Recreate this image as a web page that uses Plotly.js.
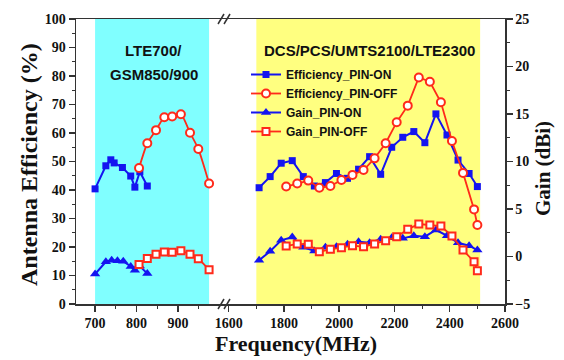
<!DOCTYPE html>
<html>
<head>
<meta charset="utf-8">
<script src="https://cdn.plot.ly/plotly-3.0.1.min.js"></script>
<style>html,body{margin:0;padding:0;background:#fff;}#chart{width:564px;height:360px;}</style>
</head>
<body>
<div id="chart"></div>
<script>
// ---------- data ----------
// Low band (LTE700/GSM850/900)
const effOnLowFreq  = [700, 726, 738, 746, 766, 786, 796, 808, 826];
const effOnLow      = [40.4, 48.5, 50.6, 49.5, 47.9, 44.9, 41.0, 46.4, 41.4];
const gainOnLowFreq = [700, 726, 740, 754, 768, 786, 796, 808, 826];
const gainOnLow     = [-1.85, -0.55, -0.4, -0.45, -0.5, -1.05, -1.45, -1.0, -1.8];
const offLowFreq    = [806, 826, 847, 867, 886, 907, 929, 949, 975];
const effOffLow     = [47.7, 56.4, 61.0, 65.5, 65.8, 66.6, 60.1, 54.4, 42.3];
const gainOffLow    = [-0.85, -0.2, 0.23, 0.47, 0.44, 0.6, 0.23, -0.23, -1.4];

// High band (DCS/PCS/UMTS2100/LTE2300)
const onHighFreq  = [1710, 1750, 1790, 1830, 1870, 1910, 1950, 1990, 2030, 2070, 2110, 2150, 2190, 2230, 2270, 2310, 2350, 2390, 2430, 2470, 2500];
const effOnHigh   = [40.8, 44.7, 49.4, 50.3, 44.7, 41.4, 42.6, 45.8, 44.1, 47.3, 51.7, 45.5, 55.0, 58.5, 60.5, 56.6, 66.7, 59.3, 50.5, 45.8, 41.2];
const gainOnHigh  = [-0.4, 0.55, 1.7, 2.05, 0.98, 0.58, 0.98, 1.03, 1.28, 1.56, 1.45, 1.81, 1.98, 1.91, 2.19, 2.09, 2.79, 2.19, 1.45, 1.14, 0.68];
const offHighFreq = [1808, 1848, 1888, 1928, 1968, 2008, 2048, 2088, 2128, 2168, 2208, 2248, 2288, 2328, 2368, 2408, 2448, 2488, 2500];
const effOffHigh  = [41.2, 42.3, 43.3, 40.8, 41.4, 43.5, 45.3, 47.0, 51.1, 56.4, 63.8, 69.6, 79.5, 78.0, 70.8, 57.2, 46.0, 33.2, 27.7];
const gainOffHigh = [1.1, 1.32, 1.28, 0.5, 0.76, 0.93, 1.14, 1.03, 1.32, 1.66, 2.08, 2.86, 3.42, 3.32, 3.21, 2.16, 0.68, -0.55, -1.5];

// shaded bands
const bandLow  = [700, 975];
const bandHigh = [1700, 2510];
const bandLabelLow  = ['LTE700/', 'GSM850/900'];
const bandLabelHigh = 'DCS/PCS/UMTS2100/LTE2300';

// series names
const names = ['Efficiency_PIN-ON', 'Efficiency_PIN-OFF', 'Gain_PIN-ON', 'Gain_PIN-OFF'];

// ticks
const xTicksLow  = [700, 800, 900];
const xTickTextLow = ['700', '800', '900'];
const xMinorLow  = [750, 850, 950];
const xTicksHigh = [1600, 1800, 2000, 2200, 2400, 2600];
const xTickTextHigh = ['1600', '1800', '2000', '2200', '2400', '2600'];
const xMinorHigh = [1700, 1900, 2100, 2300, 2500];

// ---------- styles ----------
const BLUE = '#1414f0';
const RED = '#ff2a1a';
const serif = 'Liberation Serif, Times New Roman, serif';
const sans = 'Liberation Sans, Arial, sans-serif';

const sty = {
  effOn:  {line:{color:BLUE,width:2}, marker:{symbol:'square', size:7, color:BLUE}},
  effOff: {line:{color:RED,width:1.8}, marker:{symbol:'circle', size:8, color:'#fff', line:{color:RED,width:2}}},
  gainOn: {line:{color:BLUE,width:2}, marker:{symbol:'triangle-up', size:9, color:BLUE}},
  gainOff:{line:{color:RED,width:1.8}, marker:{symbol:'square', size:7, color:'#fff', line:{color:RED,width:2}}}
};

function tr(x, y, xa, ya, s, name, show, shape) {
  return Object.assign({
    type:'scatter', mode:'lines+markers', x:x, y:y, xaxis:xa, yaxis:ya,
    name:name, legendgroup:name, showlegend:show, cliponaxis:false
  }, {line:Object.assign({shape:shape||'linear', smoothing:0.6}, s.line), marker:s.marker});
}

const data = [
  tr(onHighFreq, effOnHigh, 'x2', 'y', sty.effOn, names[0], true),
  tr(offHighFreq, effOffHigh, 'x2', 'y', sty.effOff, names[1], true),
  tr(onHighFreq, gainOnHigh, 'x2', 'y2', sty.gainOn, names[2], true),
  tr(offHighFreq, gainOffHigh, 'x2', 'y2', sty.gainOff, names[3], true),
  tr(effOnLowFreq, effOnLow, 'x', 'y', sty.effOn, names[0], false),
  tr(offLowFreq, effOffLow, 'x', 'y', sty.effOff, names[1], false, 'spline'),
  tr(gainOnLowFreq, gainOnLow, 'x', 'y2', sty.gainOn, names[2], false),
  tr(offLowFreq, gainOffLow, 'x', 'y2', sty.gainOff, names[3], false, 'spline')
];

const AX = '#333';
const tickFont = {family:serif, size:14, color:'#111', weight:'bold'};
const split = 0.345;

const xCommon = {
  showline:true, linecolor:AX, linewidth:1.5, mirror:true, ticks:'outside', ticklen:6, tickwidth:1.5,
  tickcolor:AX, tickfont:tickFont, showgrid:false, zeroline:false, anchor:'y', tickmode:'array'
};

const layout = {
  width:564, height:360,
  margin:{l:76, r:59, t:19, b:56},
  paper_bgcolor:'#fff', plot_bgcolor:'#fff',
  showlegend:true,
  legend:{x:(246-76)/429, y:(304-60)/285, xanchor:'left', yanchor:'top', bgcolor:'rgba(0,0,0,0)',
          font:{family:sans, size:12, color:'#111', weight:'bold'}, tracegroupgap:0},
  xaxis: Object.assign({}, xCommon, {domain:[0, split], range:[654, 1011],
          tickvals:xTicksLow, ticktext:xTickTextLow,
          minor:{tickmode:'array', tickvals:xMinorLow, ticks:'outside', ticklen:3, tickwidth:1.2, tickcolor:AX}}),
  xaxis2: Object.assign({}, xCommon, {domain:[split, 1], range:[1583, 2600],
          tickvals:xTicksHigh, ticktext:xTickTextHigh,
          minor:{tickmode:'array', tickvals:xMinorHigh, ticks:'outside', ticklen:3, tickwidth:1.2, tickcolor:AX}}),
  yaxis: {domain:[0,1], range:[0,100], dtick:10, tick0:0, anchor:'x', side:'left',
          showline:true, linecolor:AX, linewidth:1.5, ticks:'outside', ticklen:6, tickwidth:1.5, tickcolor:AX,
          tickfont:tickFont, showgrid:false, zeroline:false,
          minor:{dtick:5, ticks:'outside', ticklen:3, tickwidth:1.2, tickcolor:AX}},
  yaxis2: {range:[-5,25], dtick:5, tick0:0, overlaying:'y', anchor:'x2', side:'right',
          showline:true, linecolor:AX, linewidth:1.5, ticks:'outside', ticklen:6, tickwidth:1.5, tickcolor:AX,
          tickfont:tickFont, showgrid:false, zeroline:false,
          minor:{dtick:2.5, ticks:'outside', ticklen:3, tickwidth:1.2, tickcolor:AX}},
  shapes:[
    {type:'rect', xref:'x', yref:'paper', x0:bandLow[0], x1:bandLow[1], y0:0, y1:1, fillcolor:'#80ffff', line:{width:0}, layer:'below'},
    {type:'rect', xref:'x2', yref:'paper', x0:bandHigh[0], x1:bandHigh[1], y0:0, y1:1, fillcolor:'#ffff80', line:{width:0}, layer:'below'},
    // axis break marks
    {type:'line', xref:'paper', yref:'paper', xsizemode:'pixel', ysizemode:'pixel', xanchor:split, yanchor:0, x0:-6, x1:0, y0:-5, y1:5, line:{color:AX,width:1.5}},
    {type:'line', xref:'paper', yref:'paper', xsizemode:'pixel', ysizemode:'pixel', xanchor:split, yanchor:0, x0:0, x1:6, y0:-5, y1:5, line:{color:AX,width:1.5}},
    {type:'line', xref:'paper', yref:'paper', xsizemode:'pixel', ysizemode:'pixel', xanchor:split, yanchor:1, x0:-6, x1:0, y0:-5, y1:5, line:{color:AX,width:1.5}},
    {type:'line', xref:'paper', yref:'paper', xsizemode:'pixel', ysizemode:'pixel', xanchor:split, yanchor:1, x0:0, x1:6, y0:-5, y1:5, line:{color:AX,width:1.5}}
  ],
  annotations:[
    {xref:'x', yref:'paper', x:842, y:(304-50)/285, text:'<b>'+bandLabelLow[0]+'</b>', showarrow:false,
     font:{family:sans, size:15, color:'#111'}, xanchor:'center', yanchor:'middle'},
    {xref:'x', yref:'paper', x:842, y:(304-75)/285, text:'<b>'+bandLabelLow[1]+'</b>', showarrow:false,
     font:{family:sans, size:15, color:'#111'}, xanchor:'center', yanchor:'middle'},
    {xref:'x2', yref:'paper', x:2109, y:(304-50)/285, text:'<b>'+bandLabelHigh+'</b>', showarrow:false,
     font:{family:sans, size:15, color:'#111'}, xanchor:'center', yanchor:'middle'},
    {xref:'paper', yref:'paper', x:(296-76)/429, y:(304-343)/285, text:'<b>Frequency(MHz)</b>', showarrow:false,
     font:{family:serif, size:22, color:'#111'}, xanchor:'center', yanchor:'middle'},
    {xref:'paper', yref:'paper', x:(29-76)/429, y:(304-165)/285, text:'<b>Antenna Efficiency (%)</b>', showarrow:false,
     textangle:-90, font:{family:serif, size:24, color:'#111'}, xanchor:'center', yanchor:'middle'},
    {xref:'paper', yref:'paper', x:(543-76)/429, y:(304-169)/285, text:'<b>Gain (dBi)</b>', showarrow:false,
     textangle:-90, font:{family:serif, size:21, color:'#111'}, xanchor:'center', yanchor:'middle'}
  ]
};

Plotly.newPlot('chart', data, layout, {displayModeBar:false, staticPlot:true});
</script>
</body>
</html>
